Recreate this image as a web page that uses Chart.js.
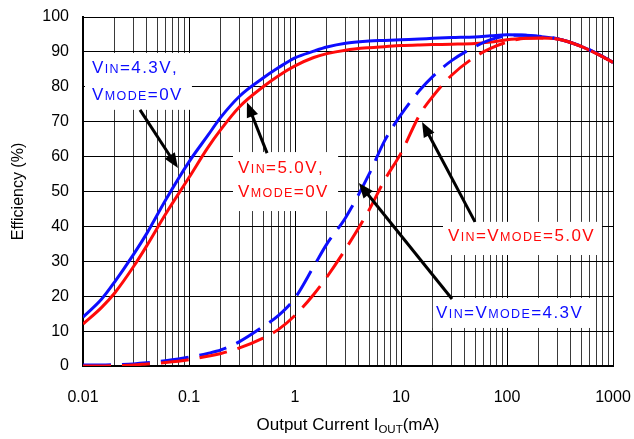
<!DOCTYPE html>
<html>
<head>
<meta charset="utf-8">
<script src="https://cdn.jsdelivr.net/npm/chart.js@4/dist/chart.umd.min.js"></script>
<style>
  html, body { margin: 0; padding: 0; background: #fff; }
  #wrap { width: 634px; height: 439px; position: relative; }
</style>
</head>
<body>
<div id="wrap"><canvas id="chart" width="634" height="439"></canvas></div>
<script>
// output current (mA), shared by all four curves
const currents = [0.01, 0.015, 0.02, 0.03, 0.04, 0.06, 0.1, 0.15, 0.2, 0.3, 0.5, 0.7, 1, 1.5, 2, 3, 5, 7, 10, 15, 20, 30, 50, 70, 100, 150, 200, 300, 500, 700, 1000];

// efficiency (%)
const effVin43Mode0 = [14, 19.2, 24.2, 32, 38, 47.5, 58.5, 66, 71.3, 77.3, 82.5, 85.5, 88.3, 90.2, 91.4, 92.5, 93.1, 93.3, 93.5, 93.7, 93.9, 94.1, 94.3, 94.6, 94.9, 94.8, 94.4, 93.7, 91.6, 89.6, 87];
const effVin50Mode0 = [12, 16.8, 21, 28.5, 34.5, 43.5, 54, 62.5, 67.8, 74.3, 80, 83.2, 86, 88.4, 89.5, 90.5, 91.2, 91.5, 91.8, 92, 92.1, 92.2, 92.4, 92.8, 93.5, 93.9, 94, 93.7, 91.6, 89.5, 87];
const effVin43Mode43 = [0.3, 0.3, 0.4, 0.6, 0.9, 1.5, 2.5, 3.6, 4.6, 7, 11.3, 14.5, 19.5, 28.5, 35, 42.5, 55, 64.5, 72, 79, 83, 87.5, 91.5, 93.5, 94.6, 94.8, 94.5, 93.8, 91.7, 89.6, 87];
const effVin50Mode50 = [0, 0, 0.1, 0.3, 0.6, 1, 1.8, 2.8, 3.6, 5.2, 8, 10.5, 14.5, 20.5, 25.5, 33.5, 44.7, 53.3, 61, 72, 77.3, 83.3, 88.6, 91, 92.8, 93.9, 94, 93.7, 91.6, 89.5, 87];

// axes
const xDecades = [0.01, 0.1, 1, 10, 100, 1000];
const xTickLabels = ['0.01', '0.1', '1', '10', '100', '1000'];
const yMin = 0, yMax = 100, yStep = 10;

const BLUE = '#0d0dff';
const RED = '#ff0a0a';
const FONT = '"Liberation Sans", Arial, sans-serif';

// annotation boxes / labels / arrows, positioned in data units
const labelBoxes = [
  { x0: 0.01044, x1: 0.1066, y0: 89.7, y1: 73.4 },
  { x0: 0.26, x1: 2.55, y0: 61.3, y1: 44.4 },
  { x0: 24.9, x1: 787, y0: 41.3, y1: 31.8 },
  { x0: 20.0, x1: 676, y0: 19.5, y1: 10.9 }
];
const labels = [
  { text: 'V{IN}=4.3V,', x: 0.01216, y: 83.95, color: BLUE },
  { text: 'V{MODE}=0V', x: 0.01216, y: 76.2, color: BLUE },
  { text: 'V{IN}=5.0V,', x: 0.29, y: 55.3, color: RED },
  { text: 'V{MODE}=0V', x: 0.29, y: 48.4, color: RED },
  { text: 'V{IN}=V{MODE}=5.0V', x: 27.7, y: 35.8, color: RED },
  { text: 'V{IN}=V{MODE}=4.3V', x: 21.4, y: 13.75, color: BLUE }
];
const arrows = [
  { from: [0.0345, 73.4], to: [0.0787, 56.7] },
  { from: [0.545, 61], to: [0.352, 75.6] },
  { from: [49.9, 41.3], to: [15.8, 69.9] },
  { from: [30.3, 19.2], to: [4.0, 52.4] }
];

function pts(vals) {
  return currents.map((c, i) => ({ x: c, y: vals[i] }));
}

function isDecade(v) {
  const l = Math.log10(v);
  return Math.abs(l - Math.round(l)) < 1e-9;
}

// draw text where {..} parts are set smaller, with a little letter spacing
function drawMixed(ctx, str, x, y, color) {
  const parts = [];
  str.split(/(\{[^}]*\})/).forEach(p => {
    if (!p) return;
    if (p[0] === '{') parts.push({ t: p.slice(1, -1), small: true });
    else parts.push({ t: p, small: false });
  });
  ctx.fillStyle = color;
  ctx.textBaseline = 'alphabetic';
  ctx.textAlign = 'left';
  let cx = x;
  parts.forEach(p => {
    ctx.font = (p.small ? '12.5px ' : '17px ') + FONT;
    for (const ch of p.t) {
      ctx.fillText(ch, cx, y);
      cx += ctx.measureText(ch).width + 1.4;
    }
  });
}

const annotate = {
  id: 'annotate',
  beforeDatasetsDraw(chart) {
    const { ctx, scales: { x, y } } = chart;
    ctx.save();
    ctx.fillStyle = '#fff';
    labelBoxes.forEach(b => {
      const l = x.getPixelForValue(b.x0), r = x.getPixelForValue(b.x1);
      const t = y.getPixelForValue(b.y0), btm = y.getPixelForValue(b.y1);
      ctx.fillRect(l, t, r - l, btm - t);
    });
    labels.forEach(lb => drawMixed(ctx, lb.text, x.getPixelForValue(lb.x), y.getPixelForValue(lb.y), lb.color));
    ctx.restore();
  },
  afterDatasetsDraw(chart) {
    const { ctx, scales: { x, y } } = chart;
    ctx.save();
    ctx.strokeStyle = '#000';
    ctx.fillStyle = '#000';
    ctx.lineWidth = 3;
    arrows.forEach(a => {
      const x1 = x.getPixelForValue(a.from[0]), y1 = y.getPixelForValue(a.from[1]);
      const x2 = x.getPixelForValue(a.to[0]), y2 = y.getPixelForValue(a.to[1]);
      const ang = Math.atan2(y2 - y1, x2 - x1);
      const len = 15, half = 6;
      const bx = x2 - len * Math.cos(ang), by = y2 - len * Math.sin(ang);
      ctx.beginPath();
      ctx.moveTo(x1, y1);
      ctx.lineTo(bx + 2 * Math.cos(ang), by + 2 * Math.sin(ang));
      ctx.stroke();
      ctx.beginPath();
      ctx.moveTo(x2, y2);
      ctx.lineTo(bx + half * Math.sin(ang), by - half * Math.cos(ang));
      ctx.lineTo(bx - half * Math.sin(ang), by + half * Math.cos(ang));
      ctx.closePath();
      ctx.fill();
    });

    // axis titles
    const area = chart.chartArea;
    ctx.fillStyle = '#000';
    ctx.textBaseline = 'alphabetic';
    const main = 'Output Current I', sub = 'OUT', tail = '(mA)';
    ctx.font = '17px ' + FONT;
    const wMain = ctx.measureText(main).width, wTail = ctx.measureText(tail).width;
    ctx.font = '11.5px ' + FONT;
    const wSub = ctx.measureText(sub).width;
    let tx = (area.left + area.right) / 2 - (wMain + wSub + wTail) / 2;
    const ty = 430;
    ctx.textAlign = 'left';
    ctx.font = '17px ' + FONT;
    ctx.fillText(main, tx, ty);
    tx += wMain;
    ctx.font = '11.5px ' + FONT;
    ctx.fillText(sub, tx, ty + 3);
    tx += wSub;
    ctx.font = '17px ' + FONT;
    ctx.fillText(tail, tx, ty);

    ctx.translate(19, (area.top + area.bottom) / 2);
    ctx.rotate(-Math.PI / 2);
    ctx.textAlign = 'center';
    ctx.textBaseline = 'middle';
    ctx.font = '16px ' + FONT;
    ctx.fillText('Efficiency (%)', 0, 0);
    ctx.restore();
  }
};

new Chart(document.getElementById('chart'), {
  type: 'line',
  data: {
    datasets: [
      { label: 'VIN=4.3V, VMODE=0V', data: pts(effVin43Mode0), borderColor: BLUE, order: 4 },
      { label: 'VIN=5.0V, VMODE=0V', data: pts(effVin50Mode0), borderColor: RED, order: 3 },
      { label: 'VIN=VMODE=4.3V', data: pts(effVin43Mode43), borderColor: BLUE, borderDash: [28, 11], order: 2 },
      { label: 'VIN=VMODE=5.0V', data: pts(effVin50Mode50), borderColor: RED, borderDash: [28, 11], order: 1 }
    ]
  },
  options: {
    responsive: false,
    animation: false,
    devicePixelRatio: 1,
    datasets: {
      line: { borderWidth: 3, pointRadius: 0, fill: false, cubicInterpolationMode: 'monotone' }
    },
    layout: { padding: { top: 17, right: 21, left: 0, bottom: 0 } },
    plugins: { legend: { display: false }, tooltip: { enabled: false } },
    scales: {
      x: {
        type: 'logarithmic',
        min: 0.01,
        max: 1000,
        afterBuildTicks(scale) {
          const ticks = [];
          xDecades.forEach(d => {
            if (d === 1000) { ticks.push({ value: d }); return; }
            for (let m = 1; m <= 9; m++) ticks.push({ value: +(m * d).toPrecision(6) });
          });
          scale.ticks = ticks;
        },
        afterFit(scale) {
          scale.height = 73;
          scale.paddingLeft = 0;
          scale.paddingRight = 0;
        },
        ticks: {
          autoSkip: false,
          maxRotation: 0,
          padding: 22,
          color: '#000',
          font: { family: FONT, size: 16 },
          callback(v) {
            const i = xDecades.findIndex(d => Math.abs(d - v) < d * 1e-6);
            return i >= 0 ? xTickLabels[i] : '';
          }
        },
        grid: {
          drawTicks: false,
          lineWidth: 1,
          color: c => (c.tick && isDecade(c.tick.value)) ? '#000' : '#3a3a3a'
        },
        border: { display: true, color: '#000', width: 2 }
      },
      y: {
        min: yMin,
        max: yMax,
        afterFit(scale) {
          scale.width = 83;
          scale.paddingTop = 0;
          scale.paddingBottom = 0;
        },
        ticks: {
          stepSize: yStep,
          padding: 14,
          color: '#000',
          font: { family: FONT, size: 16 }
        },
        grid: { drawTicks: false, lineWidth: 1, color: '#000' },
        border: { display: true, color: '#000', width: 2 }
      }
    }
  },
  plugins: [annotate]
});
</script>
</body>
</html>
